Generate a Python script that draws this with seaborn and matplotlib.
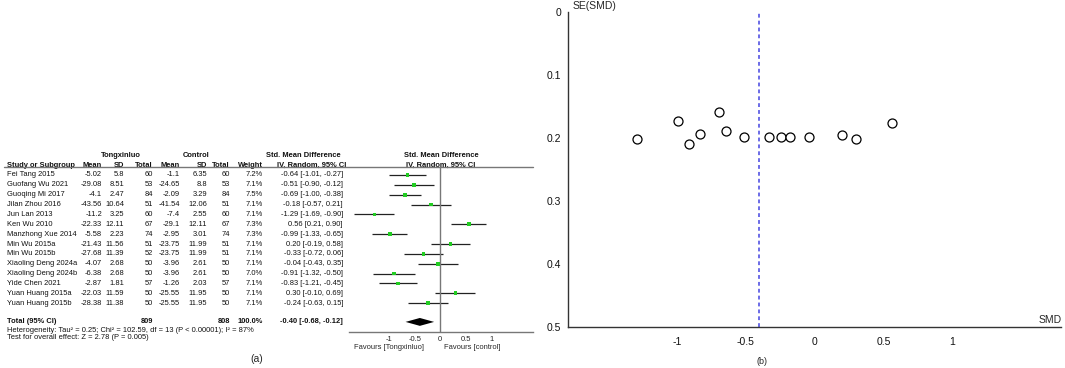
import numpy as np
import pandas as pd
import seaborn as sns
import matplotlib.pyplot as plt
from matplotlib.transforms import blended_transform_factory
from matplotlib.lines import Line2D

# ---- data ----
studies = ['Fei Tang 2015', 'Guofang Wu 2021', 'Guoqing Mi 2017', 'Jilan Zhou 2016',
           'Jun Lan 2013', 'Ken Wu 2010', 'Manzhong Xue 2014', 'Min Wu 2015a',
           'Min Wu 2015b', 'Xiaoling Deng 2024a', 'Xiaoling Deng 2024b',
           'Yide Chen 2021', 'Yuan Huang 2015a', 'Yuan Huang 2015b']
t_mean = ['-5.02', '-29.08', '-4.1', '-43.56', '-11.2', '-22.33', '-5.58', '-21.43',
          '-27.68', '-4.07', '-6.38', '-2.87', '-22.03', '-28.38']
t_sd = ['5.8', '8.51', '2.47', '10.64', '3.25', '12.11', '2.23', '11.56',
        '11.39', '2.68', '2.68', '1.81', '11.59', '11.38']
t_n = [60, 53, 84, 51, 60, 67, 74, 51, 52, 50, 50, 57, 50, 50]
c_mean = ['-1.1', '-24.65', '-2.09', '-41.54', '-7.4', '-29.1', '-2.95', '-23.75',
          '-23.75', '-3.96', '-3.96', '-1.26', '-25.55', '-25.55']
c_sd = ['6.35', '8.8', '3.29', '12.06', '2.55', '12.11', '3.01', '11.99',
        '11.99', '2.61', '2.61', '2.03', '11.95', '11.95']
c_n = [60, 53, 84, 51, 60, 67, 74, 51, 51, 50, 50, 57, 50, 50]
weight = ['7.2%', '7.1%', '7.5%', '7.1%', '7.1%', '7.3%', '7.3%', '7.1%',
          '7.1%', '7.1%', '7.0%', '7.1%', '7.1%', '7.1%']
smd = [-0.64, -0.51, -0.69, -0.18, -1.29, 0.56, -0.99, 0.20,
       -0.33, -0.04, -0.91, -0.83, 0.30, -0.24]
ci_lo = [-1.01, -0.90, -1.00, -0.57, -1.69, 0.21, -1.33, -0.19,
         -0.72, -0.43, -1.32, -1.21, -0.10, -0.63]
ci_hi = [-0.27, -0.12, -0.38, 0.21, -0.90, 0.90, -0.65, 0.58,
         0.06, 0.35, -0.50, -0.45, 0.69, 0.15]
total_est, total_lo, total_hi = -0.40, -0.68, -0.12
total_t_n, total_c_n = 809, 808

# funnel plot points (SMD, SE)
funnel_smd = [-1.29, -0.99, -0.91, -0.83, -0.69, -0.64, -0.51, -0.33,
              -0.24, -0.18, -0.04, 0.20, 0.30, 0.56]
funnel_se = [0.2015, 0.173, 0.209, 0.194, 0.158, 0.189, 0.199, 0.199,
             0.199, 0.199, 0.199, 0.196, 0.2015, 0.176]

sns.set_style('white')
plt.rcParams['font.family'] = ['Liberation Sans', 'DejaVu Sans']

W, H = 1065, 368
fig = plt.figure(figsize=(W / 100, H / 100), dpi=100)

def fx(px):
    return px / W

def fy(py):
    return 1 - py / H

# ---------------- (a) forest plot ----------------
row0, step = 175, 9.86
ax = fig.add_axes([fx(349), fy(331.5), fx(533 - 349), (331.5 - 166.7) / H])
ax.set_xlim(-1.79, 1.82)
ax.set_ylim((331.5 - row0) / step, (166.7 - row0) / step)

df = pd.DataFrame({'study': studies, 'smd': smd, 'lo': ci_lo, 'hi': ci_hi,
                   'row': np.arange(len(studies))})
ax.hlines(df['row'], df['lo'], df['hi'], color='#222222', lw=0.9)
sns.scatterplot(data=df, x='smd', y='row', marker='s', s=7, color='#22cc22',
                edgecolor='none', ax=ax, zorder=3)
total_row = 14.9
ax.fill([total_lo, total_est, total_hi, total_est],
        [total_row, total_row - 0.4, total_row, total_row + 0.4],
        color='black', lw=0)
ax.axvline(0, color='#777777', lw=1)

for s in ['top', 'right', 'left']:
    ax.spines[s].set_visible(False)
ax.spines['bottom'].set_color('#777777')
ax.spines['bottom'].set_linewidth(1)
ax.set_yticks([])
ax.set_xticks([-1, -0.5, 0, 0.5, 1])
ax.set_xticklabels(['-1', '-0.5', '0', '0.5', '1'])
ax.tick_params(axis='x', direction='in', length=3, width=0.8, color='#777777',
               labelsize=5.5, pad=3)
ax.set_xlabel('')
ax.set_ylabel('')

tr = blended_transform_factory(fig.transFigure, ax.transData)
fs = 5.4

def cell(px, row, s, ha='right', bold=False):
    ax.text(fx(px), row, s, transform=tr, ha=ha, va='center', fontsize=fs,
            fontweight='bold' if bold else 'normal', color='#111111')

# headers
cell(121, -2.0, 'Tongxinluo', ha='center', bold=True)
cell(196, -2.0, 'Control', ha='center', bold=True)
cell(303, -2.0, 'Std. Mean Difference', ha='center', bold=True)
cell(441, -2.0, 'Std. Mean Difference', ha='center', bold=True)
cell(7, -1.0, 'Study or Subgroup', ha='left', bold=True)
cell(102, -1.0, 'Mean', bold=True)
cell(124, -1.0, 'SD', bold=True)
cell(153, -1.0, 'Total', bold=True)
cell(180, -1.0, 'Mean', bold=True)
cell(207, -1.0, 'SD', bold=True)
cell(230, -1.0, 'Total', bold=True)
cell(263, -1.0, 'Weight', bold=True)
cell(312, -1.0, 'IV, Random, 95% CI', ha='center', bold=True)
cell(441, -1.0, 'IV, Random, 95% CI', ha='center', bold=True)
fig.add_artist(Line2D([fx(4), fx(533)], [fy(166.7), fy(166.7)],
                      color='#777777', lw=1))

for i in range(len(studies)):
    cell(7, i, studies[i], ha='left')
    cell(102, i, t_mean[i])
    cell(124, i, t_sd[i])
    cell(153, i, str(t_n[i]))
    cell(180, i, c_mean[i])
    cell(207, i, c_sd[i])
    cell(230, i, str(c_n[i]))
    cell(263, i, weight[i])
    cell(343, i, f'{smd[i]:.2f} [{ci_lo[i]:.2f}, {ci_hi[i]:.2f}]')

cell(7, total_row, 'Total (95% CI)', ha='left', bold=True)
cell(153, total_row, str(total_t_n), bold=True)
cell(230, total_row, str(total_c_n), bold=True)
cell(263, total_row, '100.0%', bold=True)
cell(343, total_row, f'{total_est:.2f} [{total_lo:.2f}, {total_hi:.2f}]', bold=True)
cell(7, 15.75, 'Heterogeneity: Tau² = 0.25; Chi² = 102.59, df = 13 (P < 0.00001); I² = 87%', ha='left')
cell(7, 16.5, 'Test for overall effect: Z = 2.78 (P = 0.005)', ha='left')

fig.text(fx(389), fy(347.5), 'Favours [Tongxinluo]', ha='center', va='center', fontsize=fs)
fig.text(fx(472), fy(347.5), 'Favours [control]', ha='center', va='center', fontsize=fs)
fig.text(fx(257), fy(359), '(a)', ha='center', va='center', fontsize=7.5)

# ---------------- (b) funnel plot ----------------
ax2 = fig.add_axes([fx(568), fy(327), fx(1061 - 568), (327 - 12) / H])
sns.scatterplot(x=funnel_smd, y=funnel_se, marker='o', s=42, facecolor='white',
                edgecolor='black', linewidth=0.9, ax=ax2, zorder=3)
ax2.axvline(total_est, color='#4444e0', lw=1.1, ls=(0, (2.5, 2)))
ax2.set_xlim(-1.79, 1.79)
ax2.set_ylim(0.5, 0)
ax2.set_xticks([-1, -0.5, 0, 0.5, 1])
ax2.set_xticklabels(['-1', '-0.5', '0', '0.5', '1'])
ax2.set_yticks([0, 0.1, 0.2, 0.3, 0.4, 0.5])
ax2.set_yticklabels(['0', '0.1', '0.2', '0.3', '0.4', '0.5'])
for s in ['top', 'right']:
    ax2.spines[s].set_visible(False)
for s in ['left', 'bottom']:
    ax2.spines[s].set_color('#333333')
    ax2.spines[s].set_linewidth(1)
ax2.tick_params(direction='inout', length=6, width=0.8, color='#333333',
                labelsize=7.5, labelcolor='#111111')
ax2.tick_params(axis='x', pad=4)
ax2.tick_params(axis='y', pad=2)
ax2.set_xlabel('')
ax2.set_ylabel('')
fig.text(fx(573), fy(6), 'SE(SMD)', ha='left', va='center', fontsize=7.5)
fig.text(fx(1062), fy(320), 'SMD', ha='right', va='center', fontsize=7.5)
fig.text(fx(762), fy(361), '(b)', ha='center', va='center', fontsize=6.5)

fig.savefig('out.png', dpi=100)
